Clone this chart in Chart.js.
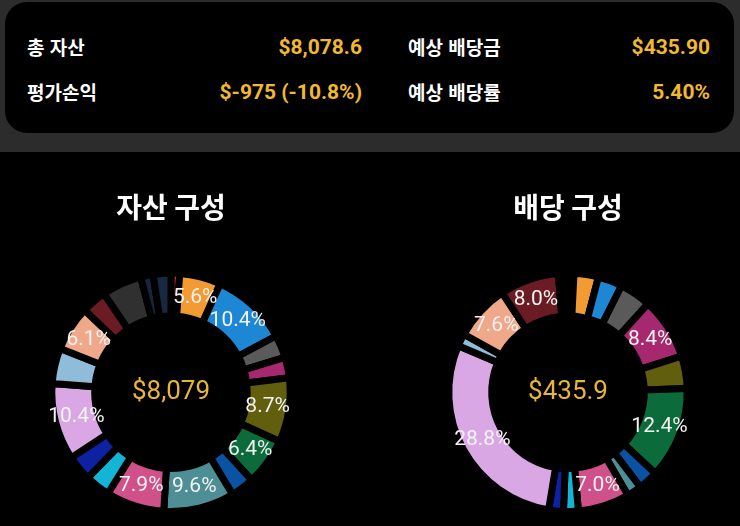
<!DOCTYPE html>
<html lang="ko">
<head>
<meta charset="utf-8">
<title>자산 구성 / 배당 구성</title>
<script src="https://cdn.jsdelivr.net/npm/chart.js@4.4.1/dist/chart.umd.min.js"></script>
<style>
  html, body { margin:0; padding:0; }
  body { width:740px; height:526px; background:#000; overflow:hidden; position:relative; }
  .top { position:absolute; left:0; top:0; width:740px; height:152px; background:#2c2c2c; }
  .card { position:absolute; left:5px; top:2px; width:729px; height:131px; background:#000; border-radius:22px; }
  .lbl { position:absolute; color:#fff; font:bold 19px 'Noto Sans CJK KR', sans-serif; line-height:24px; white-space:nowrap; }
  .val { position:absolute; color:#f1b830; font:bold 21px Roboto, sans-serif; line-height:24px; text-align:right; white-space:nowrap; }
  .chartBox { position:absolute; top:180px; width:300px; height:335px; }
</style>
</head>
<body>
<div class="top"></div>
<div class="card"></div>

<div class="lbl" style="left:27px; top:35px;">총 자산</div>
<div class="val" id="totalAsset" style="right:378px; top:35px;"></div>
<div class="lbl" style="left:408px; top:35px;">예상 배당금</div>
<div class="val" id="totalDiv" style="right:30px; top:35px;"></div>
<div class="lbl" style="left:27px; top:80px;">평가손익</div>
<div class="val" id="gainLoss" style="right:378px; top:80px;"></div>
<div class="lbl" style="left:408px; top:80px;">예상 배당률</div>
<div class="val" id="divYield" style="right:30px; top:80px;"></div>

<div class="chartBox" style="left:21px;"><canvas id="assetChart"></canvas></div>
<div class="chartBox" style="left:418px;"><canvas id="divChart"></canvas></div>

<script>
// holdings (same order / colours in both doughnuts)
const holdings = ['종목 1','종목 2','종목 3','종목 4','종목 5','종목 6','종목 7','종목 8','종목 9','종목 10',
                  '종목 11','종목 12','종목 13','종목 14','종목 15','종목 16','종목 17','종목 18','종목 19'];
const colors = ['#e2312b','#f29b33','#1e87d4','#5a5a5a','#a6286f','#615e0e','#0b6b3a','#0a52a3','#4e8e95','#d0508a',
                '#14b4d6','#0d22a3','#d9a8e4','#8ebcd9','#efa98a','#6a1b24','#303030','#15253b','#17283f'];

// market value per holding ($)
const assetValues = [95, 452, 840, 250, 226, 703, 517, 259, 776, 638,
                     275, 283, 840, 389.6, 493, 275, 436, 137, 194];
// expected yearly dividend per holding ($)
const dividendValues = [3.5, 14.4, 14.4, 18.7, 36.6, 19.2, 54.1, 11.8, 8.7, 30.5,
                        8.7, 8.7, 125.5, 7.4, 33.1, 34.9, 1.7, 1.7, 2.3];

const gainLoss = -975;
const LABEL_MIN_PCT = 5.5;

function sum(arr){ return arr.reduce((a,b)=> a + b, 0); }
function money(v){
  return v >= 1000 ? '$' + Math.round(v).toLocaleString('en-US') : '$' + v.toFixed(1);
}

// header summary
const assetTotal = sum(assetValues);
const divTotal = sum(dividendValues);
document.getElementById('totalAsset').textContent = '$' + assetTotal.toLocaleString('en-US', {minimumFractionDigits:1, maximumFractionDigits:1});
document.getElementById('totalDiv').textContent = '$' + divTotal.toFixed(2);
document.getElementById('gainLoss').textContent = '$' + gainLoss + ' (' + (gainLoss / (assetTotal - gainLoss) * 100).toFixed(1) + '%)';
document.getElementById('divYield').textContent = (divTotal / assetTotal * 100).toFixed(2) + '%';

// percent labels on the big slices
const pctLabels = {
  id: 'pctLabels',
  afterDatasetsDraw(chart){
    const ctx = chart.ctx;
    const data = chart.data.datasets[0].data;
    const total = sum(data);
    ctx.save();
    ctx.font = '21px Roboto, sans-serif';
    ctx.fillStyle = '#f2f2f2';
    ctx.textAlign = 'center';
    ctx.textBaseline = 'middle';
    chart.getDatasetMeta(0).data.forEach((arc, i) => {
      const pct = data[i] / total * 100;
      if(pct < LABEL_MIN_PCT) return;
      const p = arc.tooltipPosition();
      ctx.fillText(pct.toFixed(1) + '%', p.x, p.y);
    });
    ctx.restore();
  }
};

// total in the hole
const centerText = {
  id: 'centerText',
  afterDraw(chart){
    const arc = chart.getDatasetMeta(0).data[0];
    if(!arc) return;
    const ctx = chart.ctx;
    ctx.save();
    ctx.font = '26px Roboto, sans-serif';
    ctx.fillStyle = '#e9b634';
    ctx.textAlign = 'center';
    ctx.textBaseline = 'middle';
    ctx.fillText(money(sum(chart.data.datasets[0].data)), arc.x, arc.y);
    ctx.restore();
  }
};

function makeDoughnut(id, title, values){
  return new Chart(document.getElementById(id), {
    type: 'doughnut',
    data: {
      labels: holdings,
      datasets: [{ data: values, backgroundColor: colors, borderColor: '#000', borderWidth: 7, hoverOffset: 0 }]
    },
    options: {
      responsive: true,
      maintainAspectRatio: false,
      animation: false,
      cutout: '64%',
      plugins: {
        legend: { display: false },
        tooltip: { enabled: false },
        title: {
          display: true, text: title, color: '#fff',
          font: { family: "'Noto Sans CJK KR', sans-serif", size: 28, weight: 'bold' },
          padding: { top: 11, bottom: 45 }
        }
      }
    },
    plugins: [pctLabels, centerText]
  });
}

makeDoughnut('assetChart', '자산 구성', assetValues);
makeDoughnut('divChart', '배당 구성', dividendValues);
</script>
</body>
</html>
